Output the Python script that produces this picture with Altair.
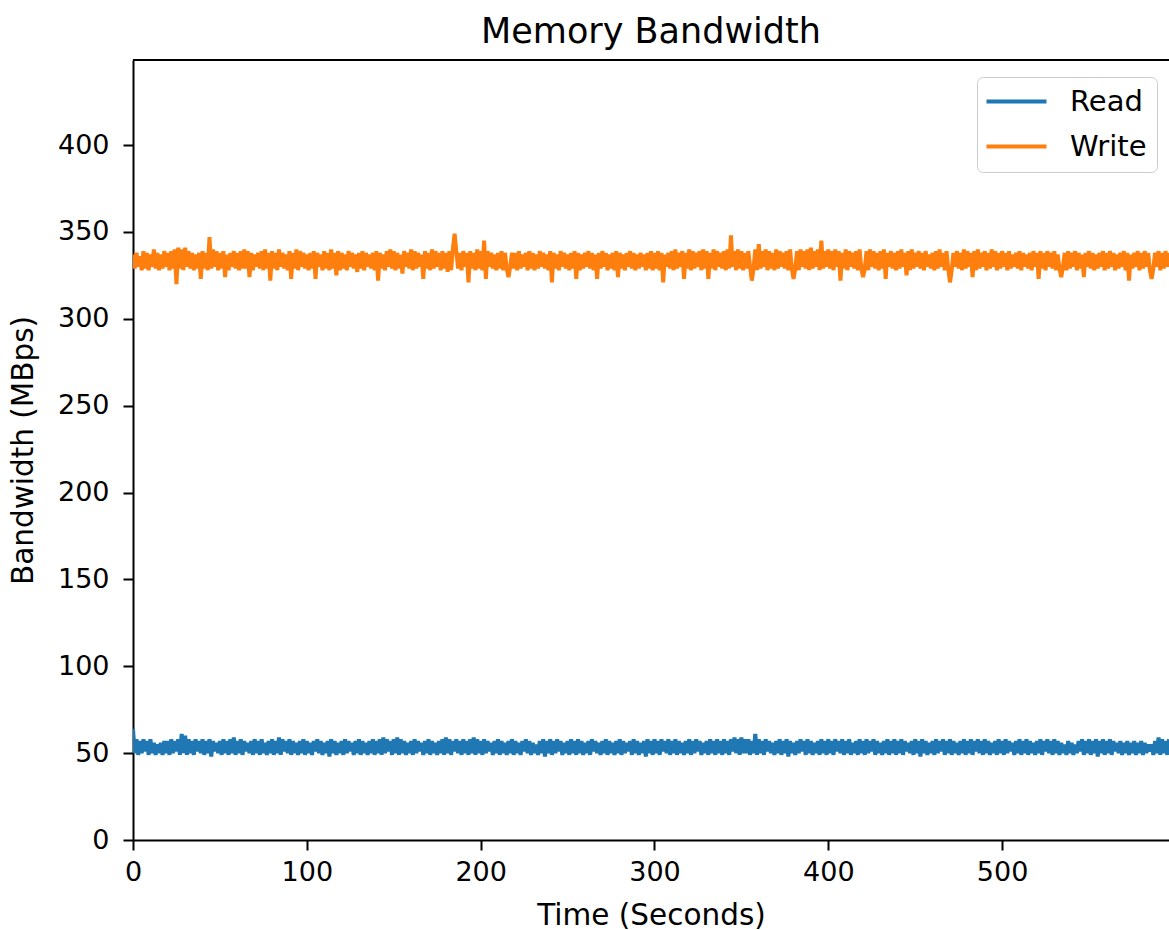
import altair as alt
import pandas as pd

series_names = ["Read", "Write"]
series_colors = ["#1f77b4", "#ff7f0e"]
x_ticks = [0, 100, 200, 300, 400, 500]
y_ticks = [0, 50, 100, 150, 200, 250, 300, 350, 400]

# one sample per second, t = 0 .. 596
read_bw = [
    64, 50, 58, 49, 57, 50, 58, 51, 57, 49, 58, 50, 56, 49, 55, 50, 56, 49, 57, 50,
    57, 49, 58, 50, 57, 51, 58, 49, 61, 50, 60, 49, 58, 50, 57, 49, 58, 51, 57, 50,
    58, 49, 57, 50, 58, 48, 57, 51, 56, 50, 57, 49, 58, 50, 57, 49, 58, 50, 59, 49,
    57, 50, 58, 49, 57, 51, 56, 50, 57, 49, 58, 50, 57, 49, 58, 50, 56, 49, 57, 50,
    58, 49, 57, 50, 59, 49, 58, 51, 57, 50, 58, 49, 57, 50, 56, 49, 57, 50, 58, 49,
    57, 50, 56, 49, 57, 51, 58, 50, 57, 49, 56, 50, 57, 48, 58, 50, 57, 49, 56, 50,
    57, 49, 58, 50, 57, 51, 56, 49, 57, 50, 58, 49, 57, 50, 56, 49, 57, 50, 58, 49,
    57, 50, 58, 49, 59, 50, 58, 51, 57, 49, 58, 50, 59, 49, 58, 50, 57, 49, 56, 50,
    57, 49, 58, 50, 57, 51, 56, 49, 57, 50, 58, 49, 57, 50, 56, 49, 57, 50, 58, 49,
    59, 50, 58, 49, 57, 51, 58, 50, 57, 49, 58, 50, 57, 49, 58, 50, 59, 49, 58, 50,
    57, 49, 58, 50, 57, 51, 56, 49, 57, 50, 58, 49, 57, 50, 56, 49, 57, 50, 58, 49,
    57, 50, 56, 49, 57, 51, 58, 50, 57, 49, 56, 50, 55, 49, 57, 50, 58, 48, 57, 50,
    58, 49, 57, 50, 58, 51, 57, 49, 56, 50, 57, 49, 58, 50, 57, 49, 58, 50, 57, 49,
    56, 50, 57, 49, 58, 51, 57, 50, 56, 49, 57, 50, 58, 49, 57, 50, 56, 49, 57, 50,
    58, 49, 57, 50, 56, 51, 57, 49, 58, 50, 57, 49, 56, 50, 57, 48, 58, 50, 57, 49,
    58, 50, 57, 49, 58, 51, 57, 50, 58, 49, 57, 50, 58, 49, 57, 50, 56, 49, 57, 50,
    58, 49, 57, 50, 58, 51, 57, 49, 56, 50, 57, 49, 58, 50, 57, 49, 58, 50, 57, 49,
    58, 50, 57, 49, 58, 51, 59, 50, 58, 49, 59, 50, 58, 50, 58, 49, 57, 50, 61, 49,
    58, 50, 57, 49, 58, 51, 57, 50, 56, 49, 57, 50, 58, 49, 57, 50, 58, 48, 57, 50,
    56, 49, 57, 50, 58, 51, 57, 49, 58, 50, 57, 49, 56, 50, 57, 49, 58, 50, 57, 49,
    58, 50, 57, 49, 58, 51, 57, 50, 58, 49, 57, 50, 58, 49, 56, 50, 57, 49, 58, 50,
    57, 49, 58, 50, 57, 51, 58, 49, 57, 50, 56, 49, 57, 50, 58, 49, 57, 50, 58, 49,
    57, 50, 58, 49, 57, 51, 56, 50, 57, 49, 58, 50, 57, 48, 58, 50, 57, 49, 56, 50,
    57, 49, 58, 50, 57, 51, 58, 49, 57, 50, 58, 49, 57, 50, 56, 49, 57, 50, 58, 49,
    57, 50, 58, 49, 57, 51, 58, 50, 57, 49, 58, 50, 57, 49, 56, 50, 57, 49, 58, 50,
    57, 49, 58, 50, 57, 51, 56, 49, 57, 50, 58, 49, 57, 50, 58, 49, 57, 50, 56, 49,
    57, 50, 58, 49, 57, 51, 58, 50, 57, 49, 58, 50, 57, 49, 56, 50, 55, 49, 57, 50,
    56, 49, 55, 50, 57, 51, 58, 49, 57, 50, 58, 49, 57, 50, 58, 48, 57, 50, 58, 49,
    57, 50, 58, 49, 57, 51, 56, 50, 57, 49, 56, 50, 57, 49, 56, 50, 57, 49, 56, 50,
    57, 49, 56, 50, 55, 51, 55, 49, 57, 50, 59, 49, 58, 50, 57, 49, 58,
]

write_bw = [
    337, 329, 338, 330, 336, 328, 339, 329, 338, 328, 337, 330, 340, 329, 338, 328, 337, 329, 339, 330,
    338, 328, 339, 329, 340, 320, 341, 329, 340, 328, 341, 330, 339, 329, 338, 328, 337, 329, 338, 323,
    339, 329, 338, 328, 347, 329, 340, 330, 339, 328, 338, 329, 339, 324, 337, 328, 338, 330, 339, 329,
    338, 328, 339, 329, 340, 329, 339, 324, 338, 328, 337, 330, 338, 329, 339, 328, 340, 329, 338, 322,
    339, 329, 338, 328, 340, 330, 338, 329, 337, 328, 339, 323, 338, 329, 340, 328, 339, 330, 338, 329,
    337, 328, 338, 329, 339, 323, 338, 330, 337, 328, 339, 329, 338, 328, 340, 329, 338, 325, 339, 328,
    338, 329, 337, 328, 339, 330, 338, 329, 337, 327, 338, 329, 339, 328, 338, 330, 337, 329, 338, 328,
    339, 322, 338, 329, 337, 328, 339, 330, 340, 329, 339, 328, 338, 329, 337, 326, 339, 330, 338, 329,
    340, 328, 339, 329, 338, 330, 337, 323, 339, 329, 338, 328, 340, 329, 339, 330, 338, 328, 339, 329,
    338, 327, 339, 328, 340, 349, 339, 329, 338, 328, 339, 330, 338, 321, 339, 329, 338, 328, 340, 329,
    339, 328, 345, 323, 339, 330, 338, 329, 337, 328, 338, 329, 339, 328, 338, 329, 324, 330, 338, 329,
    338, 328, 339, 329, 337, 330, 338, 328, 339, 329, 338, 328, 337, 329, 339, 330, 338, 329, 337, 328,
    339, 321, 338, 329, 337, 328, 339, 330, 338, 329, 337, 328, 338, 329, 339, 323, 338, 328, 337, 329,
    338, 330, 339, 329, 338, 328, 337, 323, 338, 329, 339, 330, 338, 328, 337, 329, 338, 328, 339, 324,
    338, 329, 337, 328, 338, 330, 339, 329, 338, 328, 337, 329, 338, 330, 337, 328, 338, 329, 339, 328,
    338, 329, 339, 328, 338, 321, 337, 330, 338, 329, 339, 328, 340, 329, 338, 330, 339, 323, 338, 329,
    340, 328, 339, 329, 338, 330, 339, 328, 340, 329, 339, 323, 338, 329, 340, 328, 339, 330, 338, 329,
    339, 328, 340, 329, 348, 330, 339, 328, 340, 329, 339, 328, 338, 329, 339, 330, 322, 329, 340, 328,
    343, 329, 339, 330, 340, 328, 339, 329, 338, 328, 340, 329, 339, 330, 338, 329, 339, 328, 340, 329,
    323, 329, 339, 328, 340, 330, 339, 329, 340, 328, 341, 329, 339, 330, 340, 328, 345, 329, 339, 330,
    340, 329, 339, 328, 340, 330, 339, 322, 338, 329, 340, 328, 339, 330, 338, 329, 339, 328, 340, 329,
    324, 329, 339, 328, 340, 330, 339, 329, 338, 328, 339, 329, 340, 323, 338, 330, 339, 329, 338, 328,
    339, 329, 340, 330, 338, 325, 339, 328, 340, 329, 338, 330, 339, 329, 338, 328, 339, 330, 337, 329,
    338, 328, 339, 329, 340, 330, 338, 328, 339, 329, 321, 328, 338, 330, 339, 329, 338, 328, 340, 329,
    339, 330, 338, 324, 339, 328, 340, 329, 338, 330, 339, 328, 338, 329, 340, 330, 339, 328, 338, 329,
    339, 330, 338, 328, 339, 329, 337, 330, 338, 329, 339, 328, 338, 330, 337, 329, 338, 328, 339, 330,
    338, 323, 339, 329, 338, 328, 339, 330, 338, 329, 339, 328, 337, 329, 324, 330, 338, 328, 339, 329,
    338, 330, 339, 328, 338, 329, 337, 324, 338, 330, 339, 329, 338, 328, 337, 329, 338, 330, 339, 328,
    338, 329, 339, 330, 338, 328, 337, 329, 338, 330, 339, 328, 338, 322, 337, 329, 338, 330, 339, 328,
    338, 329, 339, 330, 338, 328, 323, 329, 338, 330, 339, 328, 338, 329, 339, 330, 338,
]

rows = []
for name, vals in zip(series_names, [read_bw, write_bw]):
    for i, v in enumerate(vals):
        rows.append({"t": i, "bw": v, "series": name})
df = pd.DataFrame(rows)

FONT = "DejaVu Sans"
W, H = 1036, 780

lines = alt.Chart(df).mark_line(strokeWidth=4, clip=True).encode(
    x=alt.X("t:Q", scale=alt.Scale(domain=[0, 596], nice=False, zero=False),
            axis=alt.Axis(values=x_ticks, title="Time (Seconds)", grid=False,
                          tickSize=10, tickWidth=2, tickColor="black",
                          domainColor="black", domainWidth=2,
                          labelFont=FONT, labelFontSize=27, labelColor="black",
                          labelPadding=9, titleFont=FONT, titleFontSize=29.5,
                          titleFontWeight="normal", titleColor="black",
                          titlePadding=16, labelFlush=False)),
    y=alt.Y("bw:Q", scale=alt.Scale(domain=[0, 449], nice=False),
            axis=alt.Axis(values=y_ticks, title="Bandwidth (MBps)", grid=False,
                          tickSize=10, tickWidth=2, tickColor="black",
                          domainColor="black", domainWidth=2,
                          labelFont=FONT, labelFontSize=27, labelColor="black",
                          labelPadding=14, titleFont=FONT, titleFontSize=29.5,
                          titleFontWeight="normal", titleColor="black",
                          titlePadding=19)),
    color=alt.Color("series:N",
                    scale=alt.Scale(domain=series_names, range=series_colors),
                    legend=alt.Legend(orient="none", legendX=844, legendY=17,
                                      title=None, symbolType="M-3,0H3",
                                      symbolSize=400, symbolStrokeWidth=4,
                                      symbolOffset=15,
                                      labelFont=FONT, labelFontSize=29,
                                      labelColor="black", labelOffset=39,
                                      rowPadding=15, padding=10,
                                      fillColor="white", strokeColor="#cccccc",
                                      cornerRadius=6)),
    detail="series:N",
)

top_spine = alt.Chart(pd.DataFrame({"k": [0]})).mark_rule(
    color="black", strokeWidth=2).encode(
    x=alt.value(0), x2=alt.value(W), y=alt.value(0))

chart = alt.layer(lines, top_spine).properties(
    width=W, height=H,
    title=alt.Title("Memory Bandwidth", font=FONT, fontSize=35,
                    fontWeight="normal", color="black", offset=9,
                    anchor="middle"),
    autosize=alt.AutoSizeParams(type="none"),
    padding={"left": 133, "top": 60, "right": 0, "bottom": 90},
).configure_view(strokeWidth=0).configure(background="white")

chart.save("out.html", embed_options={"renderer": "svg", "actions": False})
